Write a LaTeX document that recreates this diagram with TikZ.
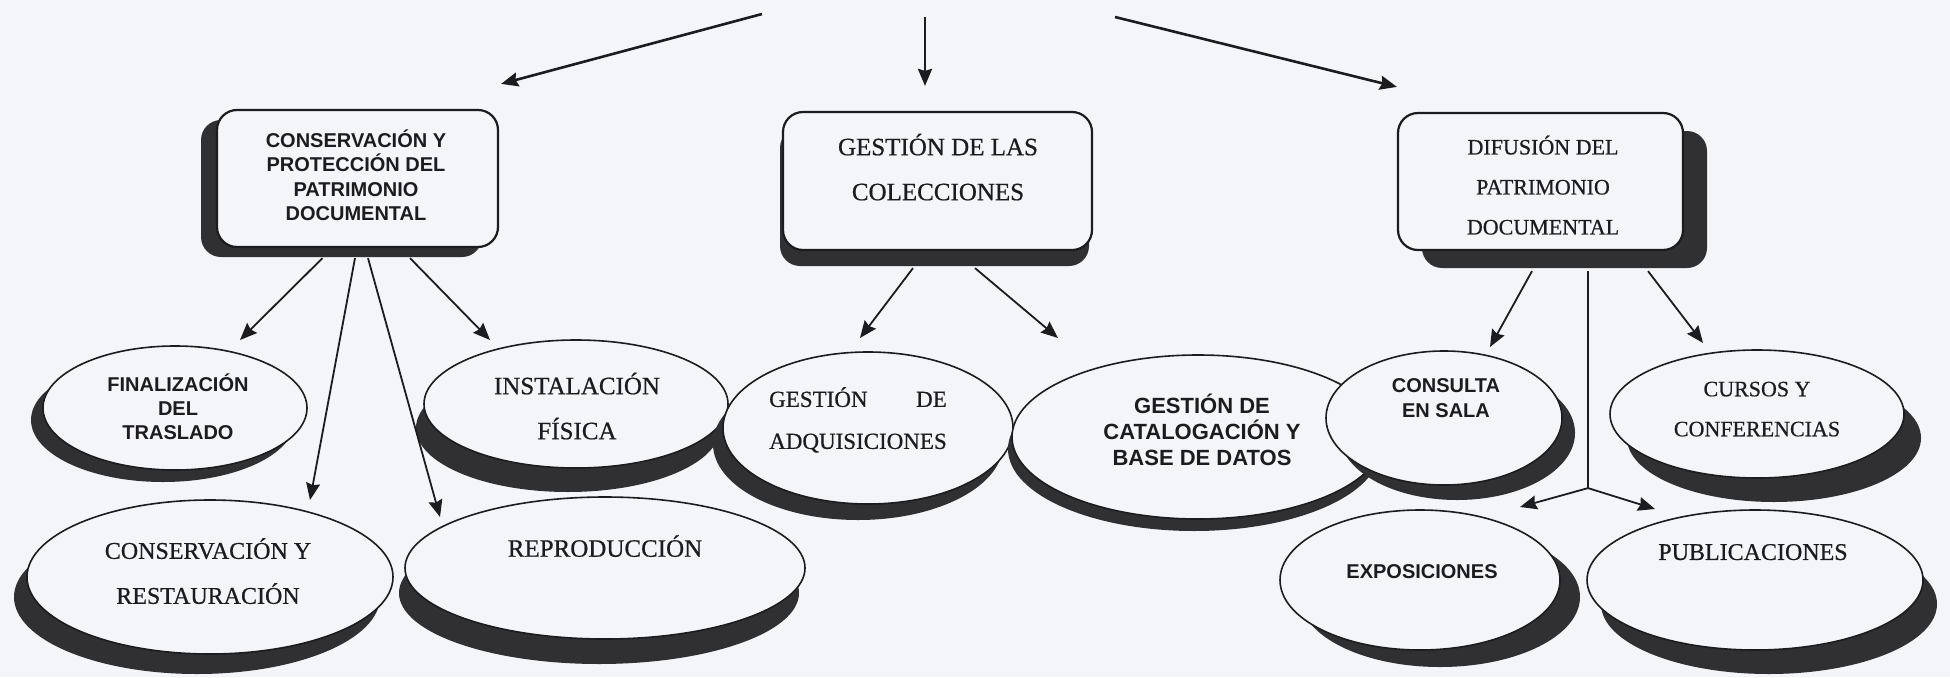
\documentclass[tikz,border=0pt]{standalone}
\usepackage{fontspec}
\setmainfont{Liberation Serif}[FakeBold=0.6]
\newfontfamily\sansf{Liberation Sans Bold}
\usepackage{calc}
\usetikzlibrary{shapes.geometric,shadows,calc,arrows.meta}
\definecolor{bg}{RGB}{244,245,248}
\definecolor{ink}{RGB}{28,28,30}
\definecolor{shade}{RGB}{48,48,50}
\begin{document}
\begin{tikzpicture}[x=1pt,y=-1pt,
  box/.style={rectangle, draw=ink, line width=2.2pt, fill=bg, rounded corners=20pt, inner sep=0pt},
  ell/.style={ellipse, draw=ink, line width=1.6pt, fill=bg, inner sep=0pt},
  sh/.style 2 args={drop shadow={shadow xshift=#1pt, shadow yshift=#2pt, opacity=1, fill=shade}},
  txt/.style={align=center, inner sep=0pt, text depth=0pt, text=ink},
  conn/.style={draw=ink, line width=1.8pt, -{Stealth[length=17pt,width=14pt,inset=2pt]}},
  toparrow/.style={conn, line width=2.6pt},
]
\useasboundingbox (0,0) rectangle (1950,677);
\fill[bg] (0,0) rectangle (1950,677);

% boxes
\node[box, sh={-16}{-10}, minimum width=281pt, minimum height=137pt] (lbox) at (357.5,178.5) {};
\node[txt, font=\sansf\fontsize{20}{24.3}\selectfont] (lbox-t) at (356,175) {CONSERVACIÓN Y\\PROTECCIÓN DEL\\PATRIMONIO\\DOCUMENTAL};

\node[box, sh={-3}{-16}, minimum width=309pt, minimum height=138pt] (mbox) at (937.5,181) {};
\node[txt, font=\fontsize{25}{45}\selectfont] (mbox-t) at (938,167) {GESTIÓN DE LAS\\COLECCIONES};

\node[box, sh={24}{-18}, minimum width=285pt, minimum height=137pt] (rbox) at (1540.5,181.5) {};
\node[txt, font=\fontsize{22}{40}\selectfont] (rbox-t) at (1543,185) {DIFUSIÓN DEL\\PATRIMONIO\\DOCUMENTAL};

% ellipses
\node[ell, sh={-12}{-12}, minimum width=264pt, minimum height=124pt] (fin) at (175,408) {};
\node[txt, font=\sansf\fontsize{20}{24}\selectfont] (fin-t) at (178,407) {FINALIZACIÓN\\DEL\\TRASLADO};

\node[ell, sh={-13}{-20}, minimum width=366pt, minimum height=154pt] (cons) at (210,577) {};
\node[txt, font=\fontsize{24}{45}\selectfont] (cons-t) at (208,571) {CONSERVACIÓN Y\\RESTAURACIÓN};

\node[ell, sh={-8}{-24}, minimum width=304pt, minimum height=128pt] (inst) at (576,404) {};
\node[txt, font=\fontsize{25}{45}\selectfont] (inst-t) at (577,406) {INSTALACIÓN\\FÍSICA};

\node[ell, sh={-6}{-25}, minimum width=400pt, minimum height=142pt] (repro) at (605,568) {};
\node[txt, font=\fontsize{25}{30}\selectfont] (repro-t) at (605,546) {REPRODUCCIÓN};

\node[ell, sh={-10}{-16}, minimum width=290pt, minimum height=152pt] (adq) at (868,428) {};
\node[txt, font=\fontsize{23}{42}\selectfont] (adq-t) at (858,418) {\makebox[\widthof{ADQUISICIONES}][s]{GESTIÓN\hfill DE}\\ADQUISICIONES};

\node[ell, sh={-4}{-12}, minimum width=372pt, minimum height=164pt] (cat) at (1198,437) {};
\node[txt, font=\sansf\fontsize{22}{26}\selectfont] (cat-t) at (1202,430) {GESTIÓN DE\\CATALOGACIÓN Y\\BASE DE DATOS};

\node[ell, sh={13}{-15}, minimum width=236pt, minimum height=134pt] (sala) at (1444,418) {};
\node[txt, font=\sansf\fontsize{20}{25}\selectfont] (sala-t) at (1446,398) {CONSULTA\\EN SALA};

\node[ell, sh={20}{-17}, minimum width=280pt, minimum height=140pt] (expo) at (1420,580) {};
\node[txt, font=\sansf\fontsize{20}{24}\selectfont] (expo-t) at (1422,572) {EXPOSICIONES};

\node[ell, sh={17}{-24}, minimum width=294pt, minimum height=128pt] (cursos) at (1757,414) {};
\node[txt, font=\fontsize{22}{40}\selectfont] (cursos-t) at (1757,409) {CURSOS Y\\CONFERENCIAS};

\node[ell, sh={14}{-24}, minimum width=336pt, minimum height=140pt] (pub) at (1755,580) {};
\node[txt, font=\fontsize{24}{30}\selectfont] (pub-t) at (1753,552) {PUBLICACIONES};

% top arrows (source above the picture)
\coordinate (s1) at (762,14);
\coordinate (s2) at (925,17);
\coordinate (s3) at (1115,17);
\draw[toparrow] (s1) -- ($(lbox.north east)+(2,-25)$);
\draw[toparrow] (s2) -- ($(mbox.north)+(-12.5,-25)$);
\draw[toparrow] (s3) -- ($(rbox.north west)+(0,-25)$);

% left box children
\draw[conn] ($(lbox.south)+(-35,10)$) -- ($(fin.center)+(65,-68)$);
\draw[conn] ($(lbox.south)+(-2.5,10)$) -- ($(cons.center)+(100,-77)$);
\draw[conn] ($(lbox.south)+(10.5,10)$) -- ($(repro.center)+(-165,-51)$);
\draw[conn] ($(lbox.south)+(52.5,10)$) -- ($(inst.center)+(-86,-64)$);

% middle box children
\draw[conn] ($(mbox.south)+(-24.5,17)$) -- ($(adq.center)+(-8,-90)$);
\draw[conn] ($(mbox.south)+(37.5,17)$) -- ($(cat.center)+(-140,-99)$);

% right box children
\draw[conn] ($(rbox.south)+(-8.5,20)$) -- ($(sala.center)+(46,-71)$);
\draw[conn] ($(rbox.south)+(107.5,20)$) -- ($(cursos.center)+(-54,-71)$);
\coordinate (junc) at ($(rbox.south)+(47.5,237)$);
\draw[draw=ink, line width=1.8pt] ($(rbox.south)+(47.5,20)$) -- (junc);
\draw[conn] (junc) -- ($(expo.center)+(100,-73)$);
\draw[conn] (junc) -- ($(pub.center)+(-100,-71)$);
\end{tikzpicture}
\end{document}
